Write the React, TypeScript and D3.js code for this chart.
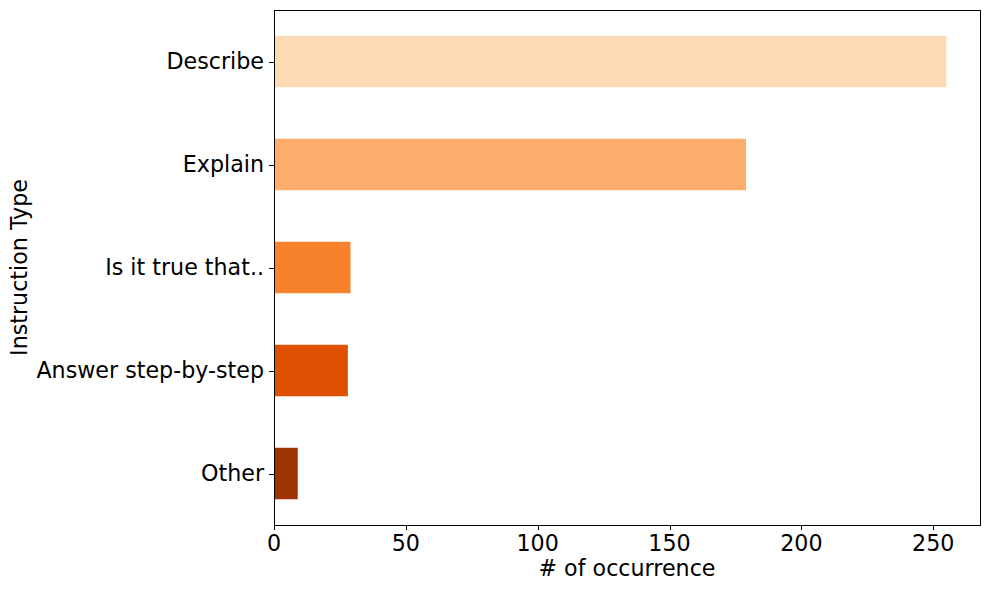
import React from "react";
import * as d3 from "d3";

const categories = ["Describe", "Explain", "Is it true that..", "Answer step-by-step", "Other"];
const counts = [255, 179, 29, 28, 9];
const colors = ["#fdd9b4", "#fdad6b", "#f8812c", "#df4f04", "#9e3303"];
const xTicks = [0, 50, 100, 150, 200, 250];

const W = 989, H = 590;
const M = { left: 274, right: 980, top: 10, bottom: 525 };
const FONT = "DejaVu Sans, sans-serif";
const FS = 22.2;

export default function App() {
  const x = d3.scaleLinear().domain([0, d3.max(counts)! * 1.05]).range([M.left, M.right]);
  const y = d3.scaleLinear().domain([-0.5, categories.length - 0.5]).range([M.top, M.bottom]);
  const bh = y(0.25) - y(-0.25);
  return (
    <svg width={W} height={H} style={{ position: "absolute", left: 0, top: 0, background: "#fff" }}>
      <rect x={0} y={0} width={W} height={H} fill="#fff" />
      {categories.map((c, i) => (
        <rect key={c} x={x(0)} y={y(i) - bh / 2} width={x(counts[i]) - x(0)} height={bh} fill={colors[i]} />
      ))}
      <rect x={M.left + 0.5} y={M.top + 0.5} width={M.right - M.left} height={M.bottom - M.top} fill="none" stroke="#000" strokeWidth={1} />
      {xTicks.map((t) => (
        <g key={t}>
          <line x1={Math.round(x(t)) + 0.5} x2={Math.round(x(t)) + 0.5} y1={M.bottom} y2={M.bottom + 5} stroke="#000" strokeWidth={1} />
          <text x={x(t)} y={M.bottom + 26} textAnchor="middle" fontFamily={FONT} fontSize={FS}>{t}</text>
        </g>
      ))}
      {categories.map((c, i) => (
        <g key={c}>
          <line x1={M.left - 5} x2={M.left} y1={Math.round(y(i)) + 0.5} y2={Math.round(y(i)) + 0.5} stroke="#000" strokeWidth={1} />
          <text x={M.left - 10} y={y(i)} dy="0.36em" textAnchor="end" fontFamily={FONT} fontSize={FS}>{c}</text>
        </g>
      ))}
      <text x={(M.left + M.right) / 2} y={576} textAnchor="middle" fontFamily={FONT} fontSize={FS}># of occurrence</text>
      <text transform={`translate(27,${(M.top + M.bottom) / 2}) rotate(-90)`} textAnchor="middle" fontFamily={FONT} fontSize={FS}>Instruction Type</text>
    </svg>
  );
}
